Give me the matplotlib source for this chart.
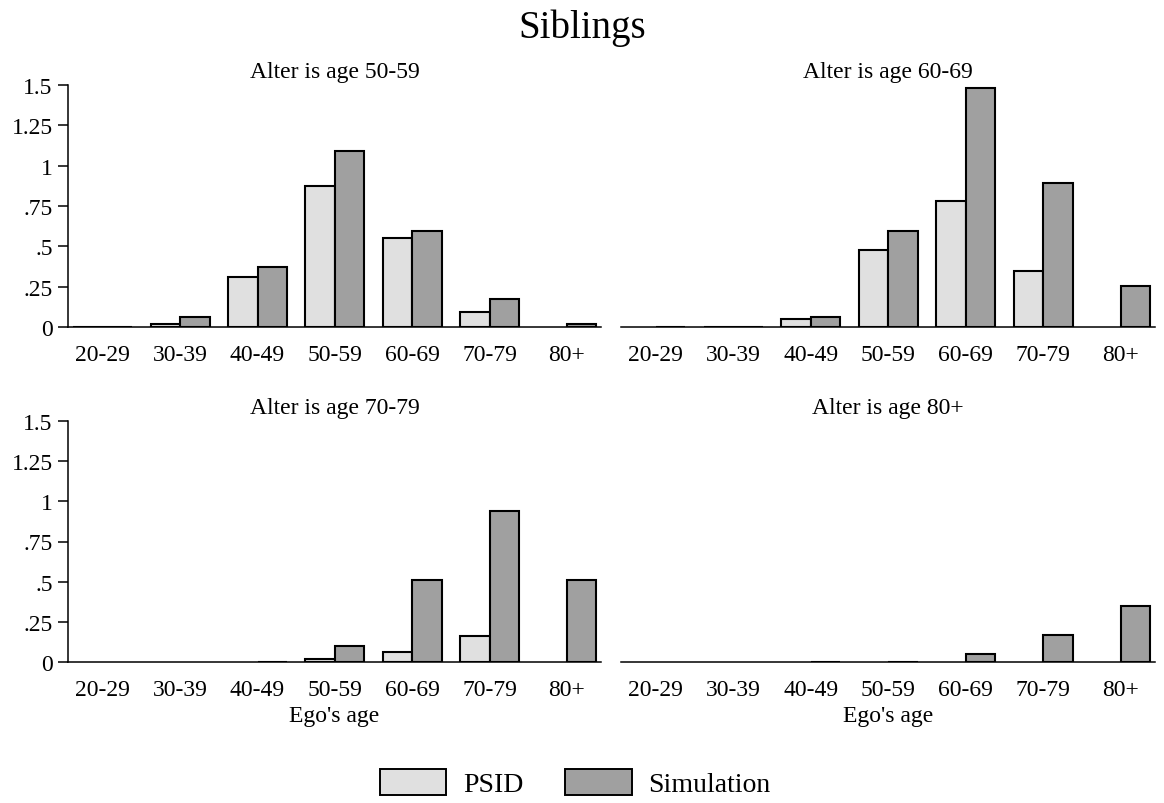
import numpy as np
import matplotlib
matplotlib.use("Agg")
import matplotlib.pyplot as plt
from matplotlib.patches import Patch

plt.rcParams['font.family'] = ['Liberation Serif', 'DejaVu Serif']

ego_ages = ["20-29", "30-39", "40-49", "50-59", "60-69", "70-79", "80+"]
panel_titles = ["Alter is age 50-59", "Alter is age 60-69",
                "Alter is age 70-79", "Alter is age 80+"]

# values (ego age groups, one list per panel)
psid_5059 = [0.003, 0.02, 0.307, 0.875, 0.549, 0.093, 0.0]
sim_5059 = [0.003, 0.064, 0.371, 1.089, 0.598, 0.175, 0.016]
psid_6069 = [0.0, 0.003, 0.047, 0.477, 0.778, 0.345, 0.0]
sim_6069 = [0.003, 0.003, 0.064, 0.596, 1.481, 0.891, 0.252]
psid_7079 = [0.0, 0.0, 0.0, 0.017, 0.06, 0.159, 0.0]
sim_7079 = [0.0, 0.0, 0.003, 0.099, 0.508, 0.94, 0.512]
psid_80 = [0.0, 0.0, 0.0, 0.0, 0.0, 0.0, 0.0]
sim_80 = [0.0, 0.0, 0.003, 0.003, 0.05, 0.171, 0.351]

psid = [psid_5059, psid_6069, psid_7079, psid_80]
sim = [sim_5059, sim_6069, sim_7079, sim_80]

yticks = [0, 0.25, 0.5, 0.75, 1, 1.25, 1.5]
ytick_labels = ["0", ".25", ".5", ".75", "1", "1.25", "1.5"]

c_psid = "#e0e0e0"
c_sim = "#a0a0a0"
w = 0.38

fig = plt.figure(figsize=(11.64, 8.04), dpi=100)
boxes = [
    [68/1164, 1-328/804, 533/1164, 242/804],
    [621/1164, 1-328/804, 534/1164, 242/804],
    [68/1164, 1-663/804, 533/1164, 241/804],
    [621/1164, 1-663/804, 534/1164, 241/804],
]

x = np.arange(len(ego_ages))
for k in range(4):
    ax = fig.add_axes(boxes[k])
    p = np.array(psid[k])
    s = np.array(sim[k])
    mp = p > 0
    ms = s > 0
    ax.bar(x[mp] - w/2, p[mp], width=w, color=c_psid, edgecolor="black", linewidth=1.5, zorder=3)
    ax.bar(x[ms] + w/2, s[ms], width=w, color=c_sim, edgecolor="black", linewidth=1.5, zorder=3)
    ax.set_xlim(-0.45, 6.44)
    ax.set_ylim(0, 1.5)
    ax.set_xticks(x)
    ax.set_xticklabels(ego_ages, fontsize=17)
    ax.tick_params(axis='x', length=0, pad=12)
    for sp in ['top', 'right']:
        ax.spines[sp].set_visible(False)
    ax.spines['bottom'].set_linewidth(1.1)
    if k % 2 == 0:
        ax.set_yticks(yticks)
        ax.set_yticklabels(ytick_labels, fontsize=17)
        ax.tick_params(axis='y', length=7, width=1.1, pad=4)
        ax.spines['left'].set_linewidth(1.1)
    else:
        ax.spines['left'].set_visible(False)
        ax.set_yticks([])
    ax.set_title(panel_titles[k], fontsize=17, pad=6)
    if k >= 2:
        ax.set_xlabel("Ego's age", fontsize=17, labelpad=4)

fig.suptitle("Siblings", fontsize=28, y=1-28/804, va='center')

handles = [Patch(facecolor=c_psid, edgecolor="black", linewidth=1.4, label="PSID"),
           Patch(facecolor=c_sim, edgecolor="black", linewidth=1.4, label="Simulation")]
fig.legend(handles=handles, loc='center', bbox_to_anchor=(0.494, 1-784/804), ncol=2,
           frameon=False, fontsize=20, handlelength=2.4, handleheight=1.05,
           handletextpad=0.6, columnspacing=1.5)

fig.savefig("out.png", dpi=100)
